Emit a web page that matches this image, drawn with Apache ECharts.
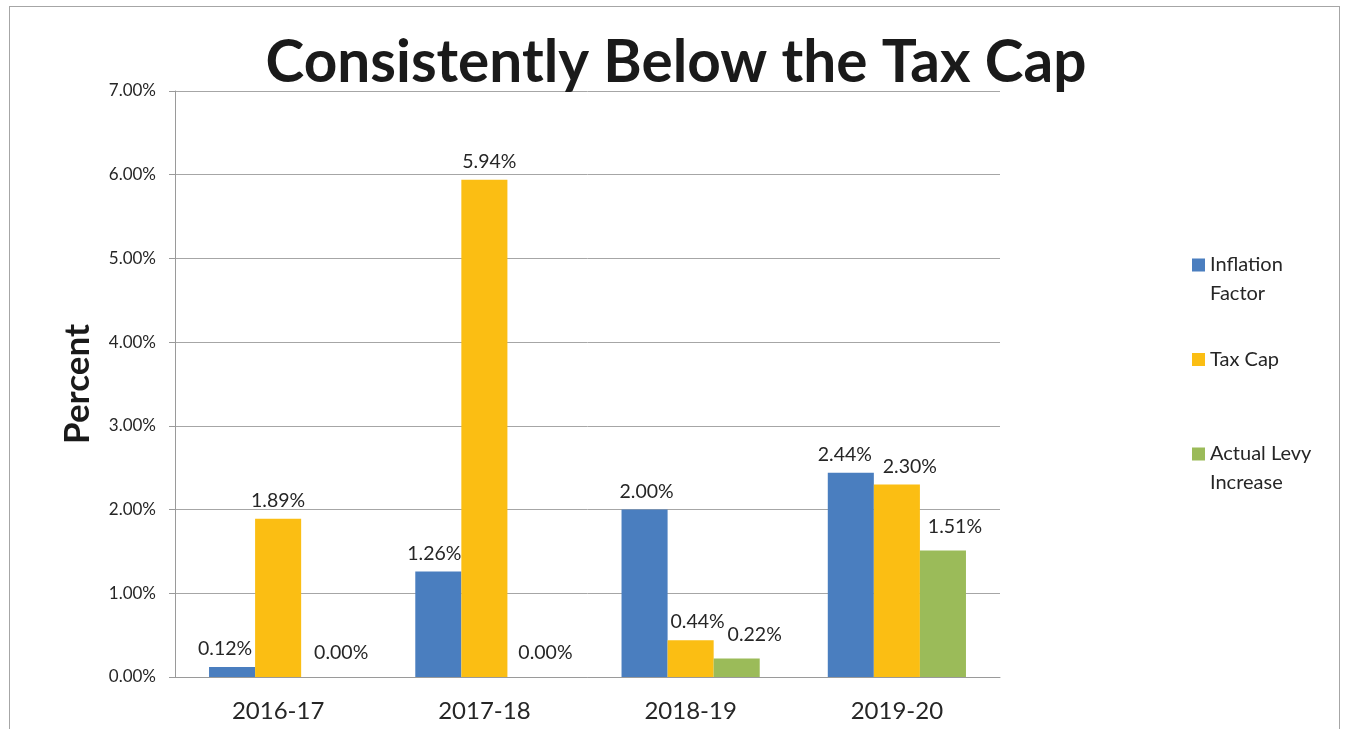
<!DOCTYPE html>
<html>
<head>
<meta charset="utf-8">
<script src="https://cdn.jsdelivr.net/npm/echarts@6/dist/echarts.min.js"></script>
<style>
html,body{margin:0;padding:0;background:#fff;}
#frame{position:absolute;left:9px;top:6px;width:1331px;height:740px;border:1px solid #a6a6a6;box-sizing:border-box;}
#chart{position:absolute;left:0;top:0;width:1354px;height:729px;}
</style>
</head>
<body>
<div id="frame"></div>
<div id="chart"></div>
<script>
const categories = ['2016-17', '2017-18', '2018-19', '2019-20'];
const inflationFactor = [0.12, 1.26, 2.00, 2.44];
const taxCap = [1.89, 5.94, 0.44, 2.30];
const actualLevy = [0.00, 0.00, 0.22, 1.51];
const seriesNames = ['Inflation Factor', 'Tax Cap', 'Actual Levy Increase'];
const legendLabels = ['Inflation\nFactor', 'Tax Cap', 'Actual Levy\nIncrease'];
const colors = ['#4A7EBF', '#FBBE13', '#9BBB59'];
// horizontal nudges of the value labels (style only)
const labelShift = [[-7, -4, 2, -6], [0, 5, 7, 13], [17, 15, 18, 12]];

const FONT = 'Lato, "Open Sans", sans-serif';
const chart = echarts.init(document.getElementById('chart'));

const labelCfg = {
  show: true, position: 'top', distance: 8,
  color: '#262626', fontSize: 19.5, fontFamily: FONT,
  formatter: p => p.value.toFixed(2) + '%'
};

function withShift(values, s) {
  return values.map((v, j) => ({ value: v, label: { offset: [labelShift[s][j], 0] } }));
}

// icon for two-line legend entries: square aligned with the first text line
const twoLineIcon = 'path://M0,0L0.01,0M0,8L13,8L13,21L0,21ZM0,58L0.01,58';

function mkLegend(i, top) {
  const multi = legendLabels[i].indexOf('\n') >= 0;
  return {
    data: [{ name: seriesNames[i], icon: multi ? twoLineIcon : 'rect' }],
    left: 1187, top: top, orient: 'vertical',
    itemWidth: 13, itemHeight: multi ? 58 : 13, itemGap: 6,
    formatter: () => legendLabels[i],
    textStyle: { fontSize: 20, fontFamily: FONT, color: '#262626', lineHeight: 29 }
  };
}

chart.setOption({
  backgroundColor: 'transparent',
  animation: false,
  title: {
    text: 'Consistently Below the Tax Cap',
    left: 671, textAlign: 'center', top: 29,
    textStyle: { fontSize: 58.5, fontWeight: 'bold', fontFamily: FONT, color: '#1a1a1a' }
  },
  legend: [mkLegend(0, 245.5), mkLegend(1, 340), mkLegend(2, 434.5)],
  grid: { left: 175, right: 354, top: 91, bottom: 52, containLabel: false },
  xAxis: {
    type: 'category', data: categories,
    axisLine: { lineStyle: { color: '#9a9a9a', width: 1 } },
    axisTick: { show: false },
    axisLabel: { fontSize: 24, fontFamily: FONT, color: '#262626', margin: 22 }
  },
  yAxis: {
    type: 'value', min: 0, max: 7, interval: 1,
    name: 'Percent', nameLocation: 'middle', nameGap: 80,
    nameTextStyle: { fontSize: 35, fontWeight: 'bold', fontFamily: FONT, color: '#1a1a1a' },
    axisLine: { show: true, lineStyle: { color: '#9a9a9a' } },
    axisTick: { show: true, length: 6, lineStyle: { color: '#9a9a9a' } },
    splitLine: { lineStyle: { color: '#a6a6a6' } },
    axisLabel: { fontSize: 17, fontFamily: FONT, color: '#262626', margin: 19,
      formatter: v => v.toFixed(2) + '%' }
  },
  series: [
    { name: seriesNames[0], type: 'bar', data: withShift(inflationFactor, 0), itemStyle: { color: colors[0] },
      barGap: '0%', barCategoryGap: '33%', label: labelCfg },
    { name: seriesNames[1], type: 'bar', data: withShift(taxCap, 1), itemStyle: { color: colors[1] },
      barGap: '0%', barCategoryGap: '33%', label: labelCfg },
    { name: seriesNames[2], type: 'bar', data: withShift(actualLevy, 2), itemStyle: { color: colors[2] },
      barGap: '0%', barCategoryGap: '33%', label: Object.assign({}, labelCfg, { distance: 14 }) }
  ]
});
</script>
</body>
</html>
